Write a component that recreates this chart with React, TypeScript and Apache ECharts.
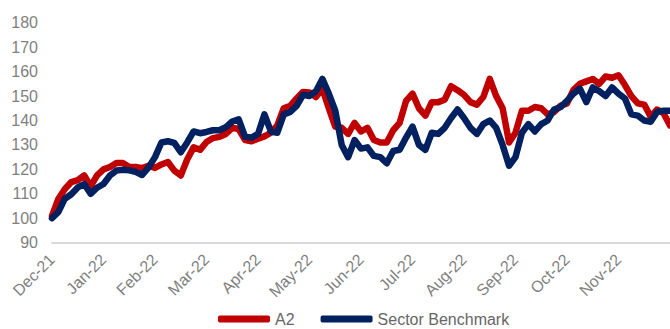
import React, { useEffect, useRef } from "react";
import * as echarts from "echarts";

const monthLabels = ["Dec-21", "Jan-22", "Feb-22", "Mar-22", "Apr-22", "May-22", "Jun-22", "Jul-22", "Aug-22", "Sep-22", "Oct-22", "Nov-22", "Dec-22"];
const pointsPerMonth = 8;

const yTicks = [90, 100, 110, 120, 130, 140, 150, 160, 170, 180];

const a2 = [
  101, 108, 112, 114.8, 115.6, 117.5, 113, 117.5,
  120, 121, 122.6, 122.6, 121, 121, 120.5, 121.5,
  120.6, 122, 123, 119.5, 117.5, 124, 129, 128,
  131.2, 132.8, 133.3, 134.5, 137, 136.5, 132, 131.5,
  132.5, 133.5, 135, 138, 145, 146, 149, 151.7,
  151.5, 149.6, 153, 145, 137.5, 137, 134.5, 139,
  135.5, 137, 132, 131, 131, 136, 139, 148,
  151, 145, 142, 147.5, 147.5, 148.5, 154, 152.4,
  150.5, 147.5, 146.5, 149.6, 157, 150, 145, 131,
  135, 144, 144, 145.5, 145, 142.5, 143.5, 146,
  147, 152.5, 155, 156, 157, 155, 158, 157.5,
  158.5, 154.5, 150, 147, 146.5, 141.5, 144.5, 143,
  138,
];

const sector = [
  100, 102.6, 108, 109.8, 112.6, 114, 110, 112.5,
  114, 117.5, 119.5, 119.8, 119.6, 119, 117.7, 120.8,
  125, 131, 131.5, 130.8, 127, 131, 135.5, 134.8,
  135.3, 136, 136, 137.3, 139.6, 140.5, 133.3, 133,
  134.5, 142.5, 135.5, 135, 142.5, 143.5, 146, 150.5,
  150, 152, 157, 151, 144, 130, 125, 132,
  128.5, 129, 125.5, 125, 122.5, 127.5, 128, 133,
  137.5, 130, 128, 135, 134.5, 137, 141, 144.5,
  141, 137, 134.5, 138.5, 140, 137, 130, 121.5,
  125, 135, 138.5, 135.5, 138.5, 140, 144.5, 145.5,
  148, 151, 153, 147.5, 153.5, 152, 150, 153.5,
  151, 149, 142.5, 142, 140, 139.5, 143.5, 144,
  144,
];

const categories: string[] = [];
for (let i = 0; i < a2.length; i++) {
  const m = Math.floor(i / pointsPerMonth);
  categories.push(monthLabels[m] + "|" + (i % pointsPerMonth));
}

export default function App() {
  const ref = useRef<HTMLDivElement>(null);
  useEffect(() => {
    if (!ref.current) return;
    const chart = echarts.init(ref.current, null, { renderer: "svg" });
    const font = "'Liberation Sans', Arial, sans-serif";
    chart.setOption({
      animation: false,
      textStyle: { fontFamily: font },
      grid: { left: 52, right: 0, top: 22.7, bottom: 86.3, containLabel: false },
      legend: {
        bottom: -3,
        left: 213,
        icon: "roundRect",
        itemWidth: 52,
        itemHeight: 7,
        itemGap: 26,
        textStyle: { color: "#666666", fontSize: 16, fontFamily: font },
        data: ["A2", "Sector Benchmark"],
      },
      xAxis: {
        type: "category",
        data: categories,
        boundaryGap: false,
        axisLine: { show: true, lineStyle: { color: "#d9d9d9", width: 2 } },
        axisTick: { show: false },
        splitLine: { show: false },
        axisLabel: {
          interval: (idx: number) => idx % pointsPerMonth === 0 && idx < a2.length - 1,
          rotate: 45,
          margin: 14,
          color: "#7f7f7f",
          fontSize: 16,
          fontFamily: font,
          formatter: (v: string) => v.split("|")[0],
        },
      },
      yAxis: {
        type: "value",
        min: yTicks[0],
        max: yTicks[yTicks.length - 1],
        interval: 10,
        axisLine: { show: false },
        axisTick: { show: false },
        splitLine: { show: false },
        axisLabel: { color: "#7f7f7f", fontSize: 16, margin: 14, fontFamily: font },
      },
      series: [
        {
          name: "A2",
          type: "line",
          data: a2,
          showSymbol: false,
          symbol: "none",
          lineStyle: { color: "#c00000", width: 6.5, cap: "round", join: "round" },
          itemStyle: { color: "#c00000" },
        },
        {
          name: "Sector Benchmark",
          type: "line",
          data: sector,
          showSymbol: false,
          symbol: "none",
          lineStyle: { color: "#002060", width: 6.5, cap: "round", join: "round" },
          itemStyle: { color: "#002060" },
        },
      ],
    });
    return () => chart.dispose();
  }, []);
  return <div ref={ref} style={{ width: 670, height: 329, position: "absolute", left: 0, top: 0 }} />;
}
